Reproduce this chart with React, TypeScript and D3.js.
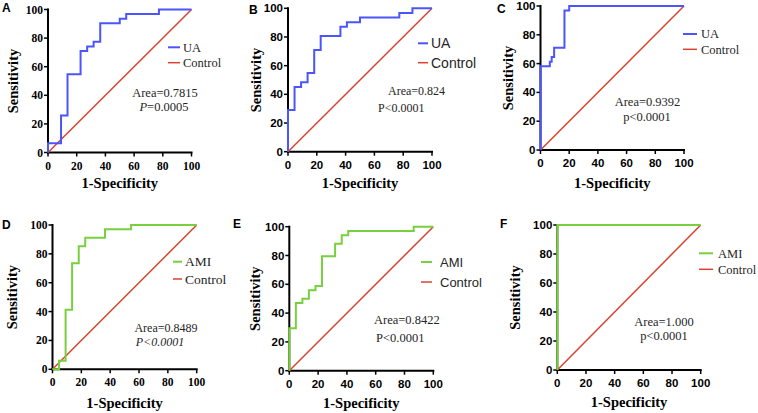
import React from "react";
import * as d3 from "d3";

// ---- data ----
const ticks = [0, 20, 40, 60, 80, 100];
const diagX = [0, 100];
const diagY = [0, 100];

const fprA = [0, 0, 9.09, 13.6, 22.7, 27.3, 31.8, 36.4, 50, 54.5, 77.3, 100];
const tprA = [0, 6.45, 25.8, 54.8, 71.0, 74.2, 77.4, 90.3, 93.5, 96.8, 100, 100];

const fprB = [0, 0, 4.55, 9.09, 13.6, 18.2, 22.7, 36.4, 40.9, 50, 77.3, 86.4, 100];
const tprB = [0, 29.0, 45.2, 48.4, 54.8, 71.0, 80.6, 87.1, 90.3, 93.5, 96.8, 100, 100];

const fprC = [0, 0, 6.5, 7.8, 9.5, 16.7, 20, 100];
const tprC = [0, 58.1, 61.3, 64.5, 71.0, 96.8, 100, 100];

const fprD = [0, 4.55, 9.09, 13.6, 18.2, 22.7, 36.4, 54.5, 100];
const tprD = [0, 5.9, 41.2, 73.5, 85.3, 91.2, 97.1, 100, 100];

const fprE = [0, 0, 4.55, 9.09, 13.6, 18.2, 22.7, 31.8, 36.4, 40.9, 86.4, 100];
const tprE = [0, 29.4, 47.1, 50.0, 55.9, 58.8, 79.4, 88.2, 94.1, 97.1, 100, 100];

const fprF = [0, 0, 100];
const tprF = [0, 100, 100];

const panelLetters = ["A", "B", "C", "D", "E", "F"];
const seriesNames = ["UA", "UA", "UA", "AMI", "AMI", "AMI"];
const controlName = "Control";
const areaTexts = ["Area=0.7815", "Area=0.824", "Area=0.9392", "Area=0.8489", "Area=0.8422", "Area=1.000"];
const pTexts = ["=0.0005", "P<0.0001", "p<0.0001", "P<0.0001", "P<0.0001", "p<0.0001"];
const xTitle = "1-Specificity";
const yTitle = "Sensitivity";

const rocX = [fprA, fprB, fprC, fprD, fprE, fprF];
const rocY = [tprA, tprB, tprC, tprD, tprE, tprF];

// ---- styles / layout ----
const BLUE = "#4a55fb";
const GREEN = "#78d03e";
const RED = "#d8432f";
const SERIF = "'Liberation Serif', 'Times New Roman', serif";
const SANS = "'Liberation Sans', Arial, sans-serif";

type Layout = {
  x0: number; x1: number; yT: number; yB: number;
  tickFont: string; tickSize: number;
  color: string;
  lgLine: [number, number]; lgY: [number, number]; lgTextX: number; lgFont: string; lgSize: number;
  annAnchor: "middle" | "start"; annX: [number, number]; annY: [number, number]; annSize: number;
  pItalic: "none" | "first" | "all";
  letterX: number; letterY: number;
  yTitleX: number; xTitleDy: number;
};

const layouts: Layout[] = [
  { x0: 48, x1: 191.5, yT: 9.5, yB: 152.5, tickFont: SERIF, tickSize: 11.5, color: BLUE,
    lgLine: [168, 180], lgY: [47.3, 62.7], lgTextX: 183, lgFont: SERIF, lgSize: 12.5,
    annAnchor: "middle", annX: [165, 164], annY: [92.7, 106.5], annSize: 12.5, pItalic: "first",
    letterX: 2, letterY: 12, yTitleX: 12.5, xTitleDy: 30 },
  { x0: 288, x1: 432, yT: 8.3, yB: 151.7, tickFont: SANS, tickSize: 11.5, color: BLUE,
    lgLine: [418, 428], lgY: [43.3, 62.7], lgTextX: 431, lgFont: SANS, lgSize: 14,
    annAnchor: "start", annX: [388, 378], annY: [90.7, 108], annSize: 12, pItalic: "none",
    letterX: 249, letterY: 14, yTitleX: 256, xTitleDy: 31.5 },
  { x0: 540.5, x1: 684, yT: 6, yB: 150, tickFont: SANS, tickSize: 11.5, color: BLUE,
    lgLine: [683, 697], lgY: [34, 49.3], lgTextX: 701, lgFont: SERIF, lgSize: 12.5,
    annAnchor: "middle", annX: [647.5, 647], annY: [101.7, 116.7], annSize: 12.5, pItalic: "none",
    letterX: 497, letterY: 13, yTitleX: 508, xTitleDy: 33 },
  { x0: 52.5, x1: 196.7, yT: 225, yB: 369.3, tickFont: SERIF, tickSize: 11.5, color: GREEN,
    lgLine: [173, 182], lgY: [261.7, 279], lgTextX: 185, lgFont: SERIF, lgSize: 13.5,
    annAnchor: "middle", annX: [166, 160], annY: [327.5, 341.5], annSize: 12, pItalic: "all",
    letterX: 2, letterY: 229, yTitleX: 12, xTitleDy: 34 },
  { x0: 289.3, x1: 433.3, yT: 226.7, yB: 370.7, tickFont: SANS, tickSize: 11.5, color: GREEN,
    lgLine: [421, 432], lgY: [262, 282], lgTextX: 440, lgFont: SANS, lgSize: 13,
    annAnchor: "start", annX: [374, 376], annY: [319.3, 337.7], annSize: 12.5, pItalic: "none",
    letterX: 233, letterY: 228, yTitleX: 255, xTitleDy: 32.5 },
  { x0: 557.3, x1: 700.7, yT: 225, yB: 370, tickFont: SANS, tickSize: 11.5, color: GREEN,
    lgLine: [699, 713], lgY: [253.3, 269.3], lgTextX: 718, lgFont: SERIF, lgSize: 12.5,
    annAnchor: "middle", annX: [664, 664], annY: [321.7, 335.5], annSize: 12.5, pItalic: "none",
    letterX: 500, letterY: 228, yTitleX: 515, xTitleDy: 31.5 },
];

function Panel({ i }: { i: number }) {
  const L = layouts[i];
  const x = d3.scaleLinear().domain([0, 100]).range([L.x0, L.x1]);
  const y = d3.scaleLinear().domain([0, 100]).range([L.yB, L.yT]);
  const pts: [number, number][] = rocX[i].map((v, k) => [v, rocY[i][k]]);
  const line = d3.line<[number, number]>().x((d) => x(d[0])).y((d) => y(d[1])).curve(d3.curveStepAfter);
  const diag = d3.line<[number, number]>().x((d) => x(d[0])).y((d) => y(d[1]));
  const diagPts: [number, number][] = diagX.map((v, k) => [v, diagY[k]]);
  const txtColor = "#262626";
  const pText = pTexts[i];
  return (
    <g>
      <text x={L.letterX} y={L.letterY} fontFamily={SANS} fontWeight="bold" fontSize={12} fill="#000">
        {panelLetters[i]}
      </text>
      <line x1={L.x0} x2={L.x0} y1={L.yT - 1} y2={L.yB + 1} stroke="#000" strokeWidth={2} />
      <line x1={L.x0 - 1} x2={L.x1 + 1} y1={L.yB} y2={L.yB} stroke="#000" strokeWidth={2} />
      {ticks.map((t) => (
        <g key={"y" + t}>
          <line x1={L.x0 - 4} x2={L.x0} y1={y(t)} y2={y(t)} stroke="#000" strokeWidth={1.5} />
          <text x={L.x0 - 5} y={y(t)} dy="0.35em" textAnchor="end" fontFamily={L.tickFont}
            fontWeight="bold" fontSize={L.tickSize} fill="#000">{t}</text>
        </g>
      ))}
      {ticks.map((t) => (
        <g key={"x" + t}>
          <line x1={x(t)} x2={x(t)} y1={L.yB} y2={L.yB + 4} stroke="#000" strokeWidth={1.5} />
          <text x={x(t)} y={L.yB + 13} dy="0.35em" textAnchor="middle" fontFamily={L.tickFont}
            fontWeight="bold" fontSize={L.tickSize} fill="#000">{t}</text>
        </g>
      ))}
      <path d={diag(diagPts) || ""} fill="none" stroke={RED} strokeWidth={1.5} />
      <path d={line(pts) || ""} fill="none" stroke={L.color} strokeWidth={2} />
      <text x={(L.x0 + L.x1) / 2} y={L.yB + L.xTitleDy} dy="0.35em" textAnchor="middle"
        fontFamily={SERIF} fontWeight="bold" fontSize={14.5} fill="#000">{xTitle}</text>
      <text transform={`translate(${L.yTitleX},${(L.yT + L.yB) / 2}) rotate(-90)`} dy="0.35em"
        textAnchor="middle" fontFamily={SERIF} fontWeight="bold" fontSize={14.5} fill="#000">{yTitle}</text>
      <line x1={L.lgLine[0]} x2={L.lgLine[1]} y1={L.lgY[0]} y2={L.lgY[0]} stroke={L.color} strokeWidth={2} />
      <line x1={L.lgLine[0]} x2={L.lgLine[1]} y1={L.lgY[1]} y2={L.lgY[1]} stroke={RED} strokeWidth={1.5} />
      <text x={L.lgTextX} y={L.lgY[0]} dy="0.35em" fontFamily={L.lgFont} fontSize={L.lgSize} fill={txtColor}>
        {seriesNames[i]}
      </text>
      <text x={L.lgTextX} y={L.lgY[1]} dy="0.35em" fontFamily={L.lgFont} fontSize={L.lgSize} fill={txtColor}>
        {controlName}
      </text>
      <text x={L.annX[0]} y={L.annY[0]} dy="0.35em" textAnchor={L.annAnchor} fontFamily={SERIF}
        fontSize={L.annSize} fill={txtColor}>{areaTexts[i]}</text>
      <text x={L.annX[1]} y={L.annY[1]} dy="0.35em" textAnchor={L.annAnchor} fontFamily={SERIF}
        fontSize={L.annSize} fill={txtColor} fontStyle={L.pItalic === "all" ? "italic" : "normal"}>
        {L.pItalic === "first" ? (<><tspan fontStyle="italic">P</tspan>{pText}</>) : pText}
      </text>
    </g>
  );
}

export default function App() {
  return (
    <div style={{ position: "fixed", left: 0, top: 0 }}>
      <svg width={758} height={413} style={{ display: "block", background: "#fff" }}>
        {layouts.map((_, i) => <Panel key={i} i={i} />)}
      </svg>
    </div>
  );
}
